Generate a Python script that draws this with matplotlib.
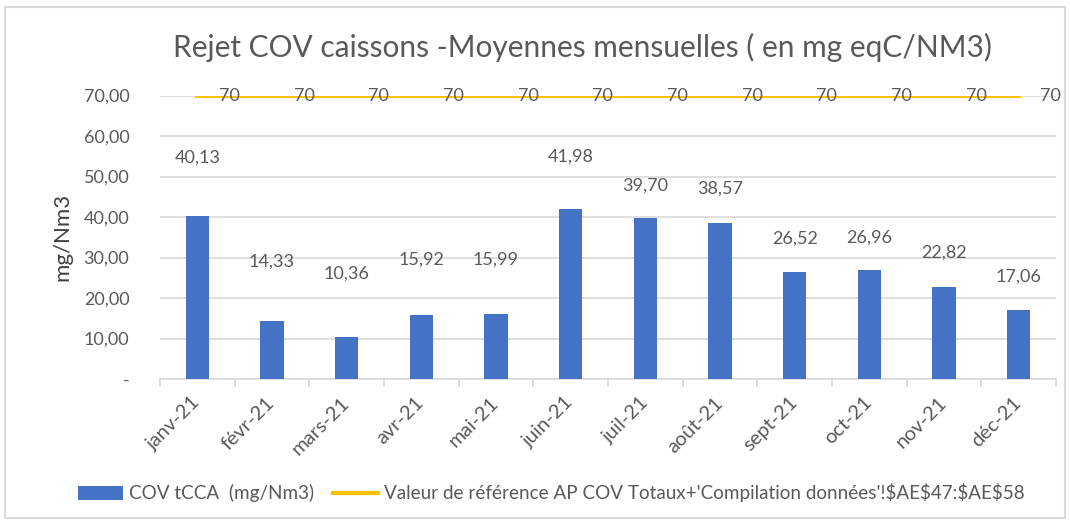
import matplotlib.pyplot as plt
import numpy as np
from matplotlib.patches import Rectangle
from matplotlib.ticker import FuncFormatter

# Data
months = ['janv-21', 'févr-21', 'mars-21', 'avr-21', 'mai-21', 'juin-21',
          'juil-21', 'août-21', 'sept-21', 'oct-21', 'nov-21', 'déc-21']
cov_values = [40.13, 14.33, 10.36, 15.92, 15.99, 41.98,
              39.70, 38.57, 26.52, 26.96, 22.82, 17.06]
ref_values = [70, 70, 70, 70, 70, 70, 70, 70, 70, 70, 70, 70]

# label offsets above bars (pixels), labels were hand-placed in the original
label_offsets = [59, 59, 63, 55, 55, 52, 33, 34, 33, 32, 34, 33]

plt.rcParams['font.family'] = ['Lato', 'DejaVu Sans']
grey_text = '#595959'
grid_col = '#d9d9d9'

fig = plt.figure(figsize=(10.7, 5.24), dpi=100)
ax = fig.add_axes([0.1495, 0.2767, 0.8375, 0.541])

x = np.arange(len(months))
bars = ax.bar(x, cov_values, width=0.31, color='#4472C4', zorder=3)
line, = ax.plot(x, ref_values, color='#FFC000', linewidth=3, zorder=4)

for xi, v, off in zip(x, cov_values, label_offsets):
    ax.annotate(f'{v:.2f}'.replace('.', ','), (xi, v), xytext=(0, off),
                textcoords='offset pixels', ha='center', va='center',
                fontsize=13, color=grey_text)
for xi, v in zip(x, ref_values):
    ax.annotate(f'{v}', (xi, v), xytext=(32, 0), textcoords='offset pixels',
                ha='center', va='center', fontsize=13, color=grey_text,
                annotation_clip=False, zorder=5)

ax.set_xlim(-0.5, len(months) - 0.5)
ax.set_ylim(0, 70)
ax.set_yticks(np.arange(0, 71, 10))
ax.yaxis.set_major_formatter(FuncFormatter(
    lambda v, p: '-' if v == 0 else f'{v:.2f}'.replace('.', ',')))
ax.tick_params(axis='y', length=0, pad=22, labelsize=13, labelcolor=grey_text)

ax.set_xticks(x)
ax.set_xticklabels(months, rotation=45, ha='right', va='center', rotation_mode='anchor',
                   fontsize=14.5, color=grey_text)
ax.set_xticks(np.arange(-0.5, len(months)), minor=True)
ax.tick_params(axis='x', which='major', length=0, pad=15)
ax.tick_params(axis='x', which='minor', length=6, color=grid_col, width=1.2)

ax.grid(axis='y', color=grid_col, linewidth=1.2, zorder=0)
for s in ['top', 'right', 'left']:
    ax.spines[s].set_visible(False)
ax.spines['bottom'].set_color(grid_col)
ax.spines['bottom'].set_linewidth(1.2)

ax.set_ylabel('mg/Nm3', fontsize=16, color='#404040', labelpad=8)
fig.text(0.544, 1 - 47 / 524, 'Rejet COV caissons -Moyennes mensuelles ( en mg eqC/NM3)',
         ha='center', va='center', fontsize=21.5, color=grey_text)

fig.legend([bars, line],
           ['COV tCCA  (mg/Nm3)',
            "Valeur de référence AP COV Totaux+'Compilation données'!\\$AE\\$47:\\$AE\\$58"],
           loc='center', bbox_to_anchor=(0.515, 1 - 493 / 524), ncol=2, frameon=False,
           fontsize=13.6, handlelength=2.4, handletextpad=0.3, columnspacing=1.0,
           labelcolor=grey_text)

fig.patches.append(Rectangle((0.005, 0.012), 0.99, 0.975, transform=fig.transFigure,
                             fill=False, edgecolor=grid_col, linewidth=1.5))

fig.savefig('out.png')
